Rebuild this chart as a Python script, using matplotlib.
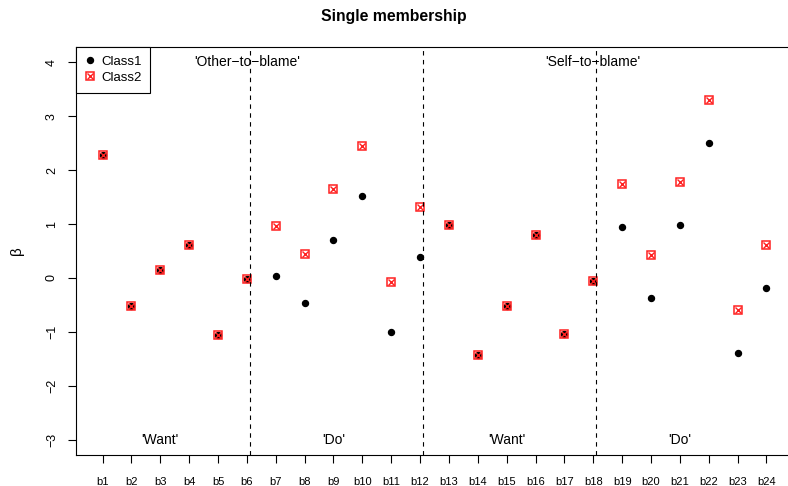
import matplotlib
matplotlib.use("Agg")
import matplotlib.pyplot as plt
from matplotlib.lines import Line2D

plt.rcParams["font.family"] = ["Liberation Sans", "DejaVu Sans"]

labels = ["b%d" % i for i in range(1, 25)]
class1 = [2.28, -0.52, 0.14, 0.62, -1.05, -0.02,
          0.03, -0.47, 0.70, 1.52, -1.01, 0.39,
          0.99, -1.42, -0.52, 0.80, -1.04, -0.05,
          0.95, -0.37, 0.98, 2.50, -1.39, -0.18]
class2 = [2.28, -0.52, 0.14, 0.62, -1.05, -0.02,
          0.96, 0.45, 1.64, 2.45, -0.08, 1.31,
          0.99, -1.42, -0.52, 0.80, -1.04, -0.05,
          1.75, 0.42, 1.77, 3.29, -0.60, 0.61]
dividers = [6.1, 12.1, 18.1]
top_text = [(6, "'Other\u2212to\u2212blame'"), (18, "'Self\u2212to\u2212blame'")]
bottom_text = [(3, "'Want'"), (9, "'Do'"), (15, "'Want'"), (21, "'Do'")]

W, H = 788, 486
fig = plt.figure(figsize=(W / 100, H / 100), dpi=100)
ax = fig.add_axes([76 / W, (H - 455) / H, 717 / W, 408 / H])

x = list(range(1, 25))
red = "#ff2020"

ax.plot(x, class1, linestyle="none", marker="o", ms=4.3, color="black", mec="black")
ax.plot(x, class2, linestyle="none", marker="s", ms=5.3, mfc="none", mec=red, mew=1.1)
ax.plot(x, class2, linestyle="none", marker="x", ms=4.5, color=red, mew=1.0)

for d in dividers:
    ax.axvline(d, color="black", lw=0.8, linestyle=(0, (4, 4)))

for xp, t in top_text:
    ax.text(xp, 4.0, t, ha="center", va="center", fontsize=10)
for xp, t in bottom_text:
    ax.text(xp, -3.0, t, ha="center", va="center", fontsize=10)

ax.set_xlim(0.08, 24.92)
ax.set_ylim(-3.28, 4.28)
ax.set_xticks(x)
ax.set_xticklabels(labels)
ax.set_yticks(range(-3, 5))
ax.set_yticklabels([str(v).replace("-", "\u2212") for v in range(-3, 5)],
                   rotation=90, va="center")
ax.tick_params(axis="both", direction="out", length=6, width=0.8)
ax.tick_params(axis="y", labelsize=9, pad=7)
ax.tick_params(axis="x", labelsize=8, pad=10)
for s in ax.spines.values():
    s.set_linewidth(0.8)

ax.set_ylabel("\u03b2", fontsize=11, labelpad=16)

h1 = Line2D([], [], linestyle="none", marker="o", ms=4.3, color="black")
h2 = (Line2D([], [], linestyle="none", marker="s", ms=5.3, mfc="none", mec=red, mew=1.1),
      Line2D([], [], linestyle="none", marker="x", ms=4.5, color=red, mew=1.0))
leg = ax.legend([h1, h2], ["Class1", "Class2"], loc="upper left",
                bbox_to_anchor=(0, 1), borderaxespad=0, fontsize=9.5,
                fancybox=False, framealpha=1, edgecolor="black",
                handlelength=0.8, handletextpad=0.45, labelspacing=0.3,
                borderpad=0.65)
leg.get_frame().set_linewidth(0.8)

fig.text(0.5, 1 - 17 / H, "Single membership", ha="center", va="center",
         fontsize=11.3, fontweight="bold")

fig.savefig("out.png", dpi=100)
